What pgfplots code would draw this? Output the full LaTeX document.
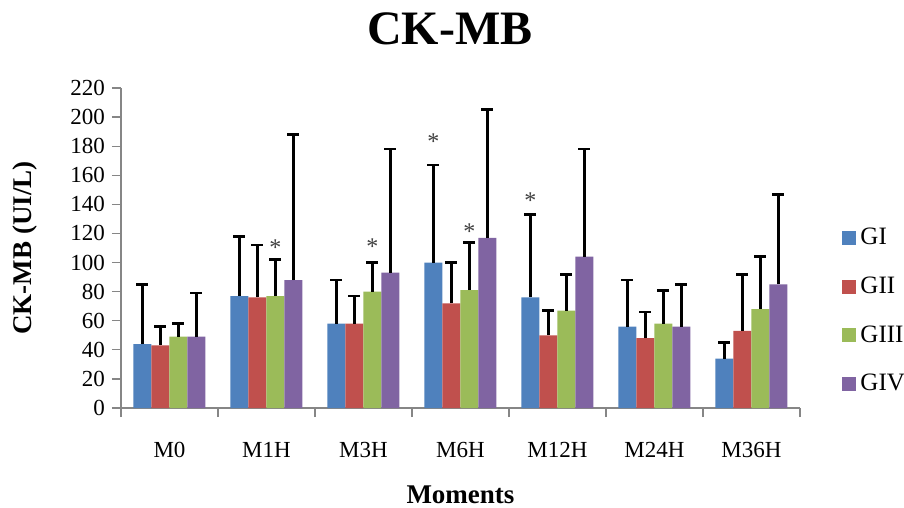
\documentclass[border=0pt]{standalone}
\usepackage{fontspec}
\setmainfont{Liberation Serif}
\usepackage{graphicx}
\usepackage{pgfplots}
\usepackage{pgfplotstable}
\pgfplotsset{compat=1.18}

\definecolor{cGI}{HTML}{4F81BD}
\definecolor{cGII}{HTML}{C0504D}
\definecolor{cGIII}{HTML}{9BBB59}
\definecolor{cGIV}{HTML}{8064A2}
\definecolor{axgray}{HTML}{868686}

% mean and upper error (SD) per moment
\pgfplotstableread{
x y ey
0 44 41
1 77 41
2 58 30
3 100 67
4 76 57
5 56 32
6 34 11
}\gi
\pgfplotstableread{
x y ey
0 43 13
1 76 36
2 58 19
3 72 28
4 50 17
5 48 18
6 53 39
}\gii
\pgfplotstableread{
x y ey
0 49 9
1 77 25
2 80 20
3 81 33
4 67 25
5 58 23
6 68 36
}\giii
\pgfplotstableread{
x y ey
0 49 30
1 88 100
2 93 85
3 117 88
4 104 74
5 56 29
6 85 62
}\giv

\pgfplotsset{
  sqlegend/.style={legend image code/.code={\fill[##1] (0pt,-3.5pt) rectangle (7pt,3.5pt);}},
  errs/.style={error bars/.cd, y dir=plus, y explicit,
    error bar style={line width=1.4pt, black},
    error mark options={rotate=90, mark size=3pt, line width=1.4pt, black}},
}

\begin{document}
\begin{tikzpicture}
\begin{axis}[
  scale only axis, width=339.5pt, height=160pt,
  xmin=-0.5, xmax=6.5, ymin=0, ymax=220,
  ybar=0pt, bar width=9pt,
  axis x line*=bottom, axis y line*=left,
  axis line style={draw=axgray, line width=0.6pt, -},
  tick align=outside, major tick length=4.5pt,
  tick style={draw=axgray, line width=0.6pt},
  ytick={0,20,...,220},
  xtick={-0.5,0.5,...,6.5},
  x tick label as interval,
  xticklabels={M0,M1H,M3H,M6H,M12H,M24H,M36H},
  xticklabel style={yshift=-9pt},
  /pgf/number format/assume math mode=true,
  ticklabel style={font=\fontsize{11.5}{13}\selectfont},
  xlabel={Moments},
  xlabel style={at={(axis description cs:0.5,-0.272)}, anchor=center, font=\fontsize{13.5}{15}\selectfont\bfseries},
  ylabel={CK-MB (UI/L)},
  ylabel style={at={(axis description cs:-0.1414,0.5)}, anchor=center, font=\fontsize{13.5}{15}\selectfont\bfseries},
  title={CK-MB},
  title style={at={(axis description cs:0.4845,1.147)}, anchor=center, font=\fontsize{24}{26}\selectfont\bfseries},
  legend style={at={(axis description cs:1.062,0.575)}, anchor=north west, draw=none, fill=none,
    inner sep=0pt, font=\fontsize{12.5}{14}\selectfont, row sep=10.5pt,
    /tikz/every even column/.append style={column sep=3pt}},
  legend cell align=left,
]
\addplot[fill=cGI, draw=none, sqlegend, errs] table[x=x, y=y, y error=ey] {\gi};
\addplot[fill=cGII, draw=none, sqlegend, errs] table[x=x, y=y, y error=ey] {\gii};
\addplot[fill=cGIII, draw=none, sqlegend, errs] table[x=x, y=y, y error=ey] {\giii};
\addplot[fill=cGIV, draw=none, sqlegend, errs] table[x=x, y=y, y error=ey] {\giv};
\legend{GI,GII,GIII,GIV}
\begin{scope}[every node/.style={font=\fontsize{12}{13}\selectfont, text=black!75, anchor=center, yshift=-2pt}]
\node[xshift=4.5pt] at (axis cs:1,113) {*};
\node[xshift=4.5pt] at (axis cs:2,114) {*};
\node[xshift=-13.5pt] at (axis cs:3,186) {*};
\node[xshift=4.5pt] at (axis cs:3,124) {*};
\node[xshift=-13.5pt] at (axis cs:4,145) {*};
\end{scope}
\coordinate (bbll) at (rel axis cs:-0.1782,-0.3125);
\coordinate (bbur) at (rel axis cs:1.1532,1.275);
\end{axis}
\pgfresetboundingbox
\path (bbll) rectangle (bbur);
\end{tikzpicture}
\end{document}
